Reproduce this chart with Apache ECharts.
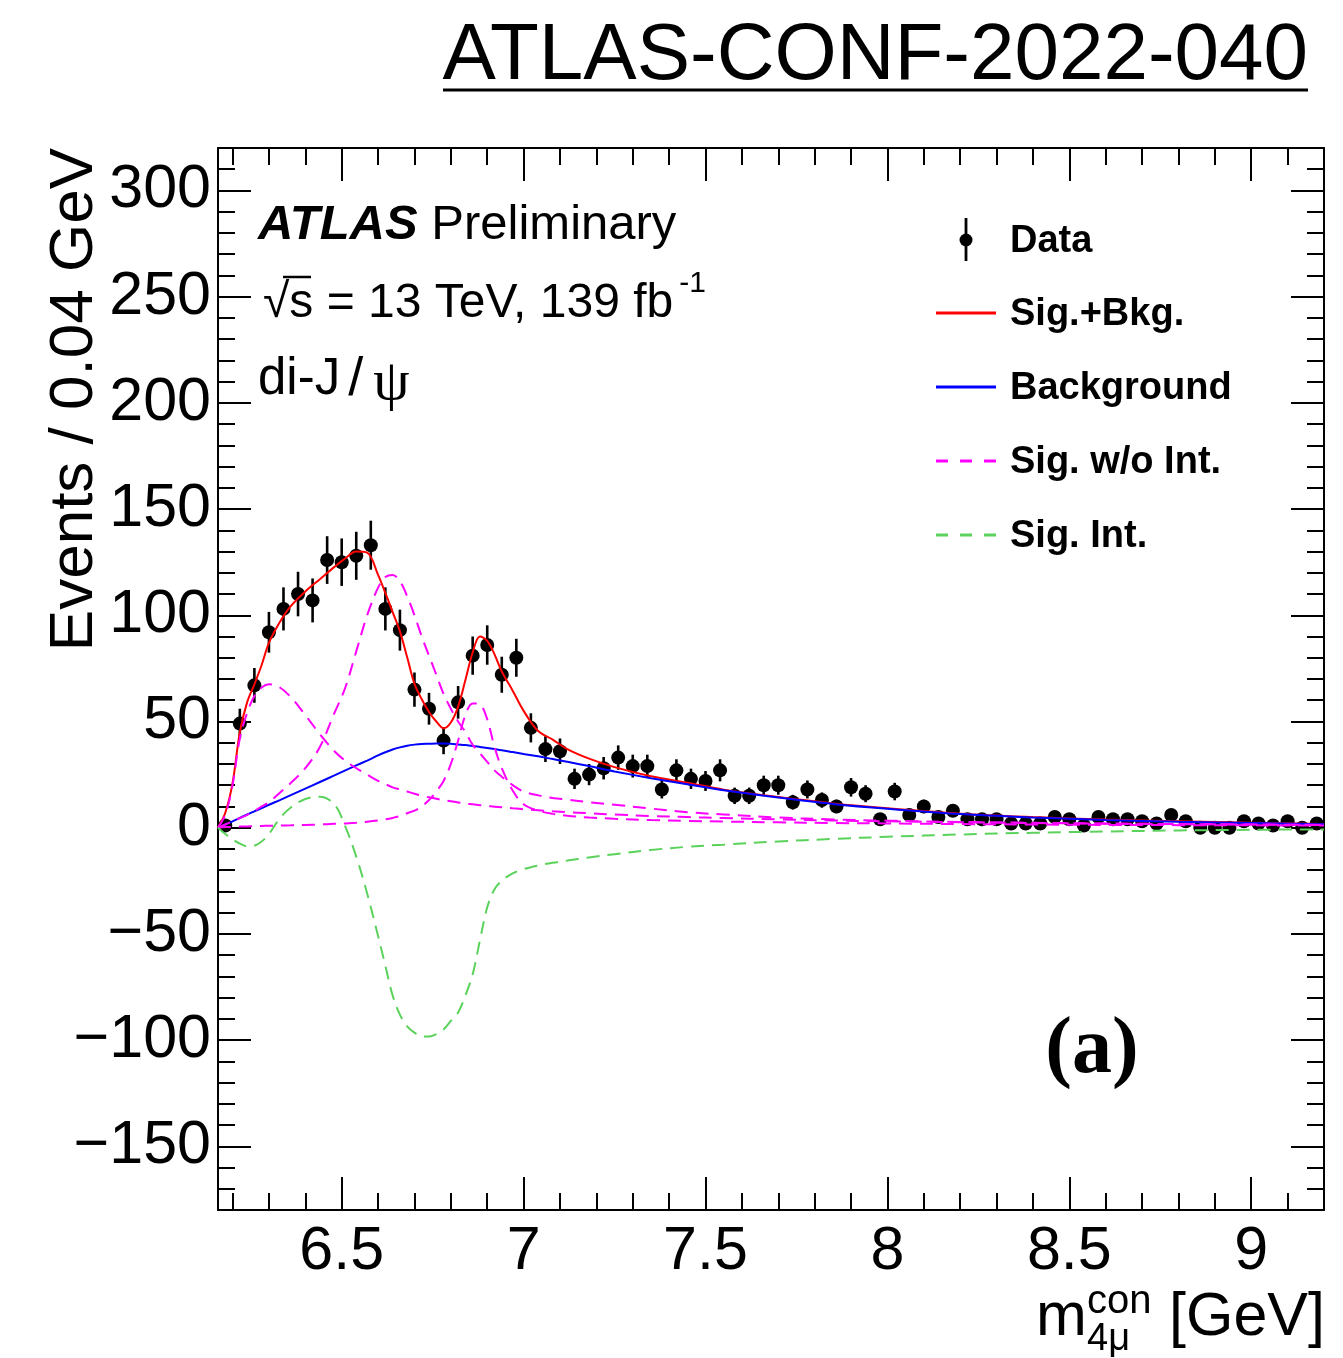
<!DOCTYPE html>
<html>
<head>
<meta charset="utf-8">
<script src="https://cdn.jsdelivr.net/npm/echarts@6/dist/echarts.min.js"></script>
<style>
html, body { margin: 0; padding: 0; background: #fff; }
#chart { width: 1343px; height: 1358px; }
</style>
</head>
<body>
<div id="chart"></div>
<script>
// Events per 0.04 GeV bin, bin centres in GeV
const binCenters = [
  6.18, 6.22, 6.26, 6.30, 6.34, 6.38, 6.42, 6.46, 6.50, 6.54,
  6.58, 6.62, 6.66, 6.70, 6.74, 6.78, 6.82, 6.86, 6.90, 6.94,
  6.98, 7.02, 7.06, 7.10, 7.14, 7.18, 7.22, 7.26, 7.30, 7.34,
  7.38, 7.42, 7.46, 7.50, 7.54, 7.58, 7.62, 7.66, 7.70, 7.74,
  7.78, 7.82, 7.86, 7.90, 7.94, 7.98, 8.02, 8.06, 8.10, 8.14,
  8.18, 8.22, 8.26, 8.30, 8.34, 8.38, 8.42, 8.46, 8.50, 8.54,
  8.58, 8.62, 8.66, 8.70, 8.74, 8.78, 8.82, 8.86, 8.90, 8.94,
  8.98, 9.02, 9.06, 9.10, 9.14, 9.18
];
const counts = [
  1, 49, 67, 92, 103, 110, 107, 126, 125, 128,
  133, 103, 93, 65, 56, 41, 59, 81, 86, 72,
  80, 47, 37, 36, 23, 25, 28, 33, 29, 29,
  18, 27, 23, 22, 27, 15, 15, 20, 20, 12,
  18, 13, 10, 19, 16, 4, 17, 6, 10, 5,
  8, 4, 4, 4, 2, 2, 2, 5, 4, 1,
  5, 4, 4, 3, 2, 6, 3, 0, 0, 0,
  3, 2, 1, 3, 0, 2
];
// Poisson uncertainty of each bin
const countErrors = counts.map(n => Math.sqrt(n));

// Fit model, sampled in m(4mu)
const curveMass = [
  6.16, 6.18, 6.20, 6.22, 6.24, 6.26, 6.28, 6.30, 6.33, 6.36,
  6.40, 6.44, 6.48, 6.51, 6.54, 6.57, 6.60, 6.62, 6.64, 6.66,
  6.68, 6.70, 6.72, 6.74, 6.76, 6.78, 6.80, 6.82, 6.84, 6.86,
  6.88, 6.90, 6.92, 6.94, 6.97, 7.00, 7.04, 7.08, 7.12, 7.18,
  7.25, 7.35, 7.45, 7.55, 7.70, 7.85, 8.00, 8.20, 8.40, 8.60,
  8.80, 9.00, 9.20
];
const sigPlusBkg = [
  0, 7, 21, 45, 59, 67.5, 76.6, 87, 96.8, 104.3,
  111.2, 117, 122.8, 126.8, 130, 129.5, 119, 110.5, 101.5, 92.4,
  80.2, 67.7, 60.5, 54.5, 50, 46.8, 49.5, 57, 69.5, 82.5,
  90, 88, 81.6, 73.5, 64.5, 55, 45.5, 41.5, 37, 32.5,
  28.5, 24.2, 21.2, 17.9, 14.4, 11.4, 9.1, 6.6, 5, 3.8,
  3, 2.3, 1.7
];
const background = [
  0, 1.5, 3, 4.6, 6.2, 7.7, 9.2, 10.8, 13, 15.3,
  18.4, 21.5, 24.6, 27, 29.3, 31.6, 34, 35.5, 36.8, 37.8,
  38.6, 39.1, 39.4, 39.5, 39.6, 39.6, 39.5, 39.2, 38.9, 38.5,
  38, 37.5, 37, 36.5, 35.6, 34.7, 33.6, 32.3, 31, 29,
  26.5, 23.3, 20.4, 17.6, 14.2, 11.2, 8.9, 6.4, 4.8, 3.6,
  2.8, 2.2, 1.6
];
// Signal resonances without interference
const sigLowRes = [
  0, 6, 20, 42, 54, 62, 66, 67.5, 66, 61.5,
  53, 44, 36, 31.5, 28, 25, 22, 20.5, 19, 18,
  17, 16, 15, 14.3, 13.6, 13, 12.4, 11.9, 11.4, 11,
  10.6, 10.2, 9.9, 9.6, 9.1, 8.7, 8.2, 7.7, 7.3, 6.8,
  6.2, 5.5, 5, 4.5, 3.9, 3.4, 3, 2.6, 2.2, 1.9,
  1.7, 1.5, 1.3
];
const sigMidRes = [
  0, 1.5, 3, 4.5, 6, 7.8, 10, 12, 16.5, 21,
  28, 38, 54, 66, 83, 100, 113, 118, 119, 116,
  109, 100, 90, 81, 72, 63, 56, 50, 45, 39,
  35, 31, 27, 24, 20, 17, 15.2, 14, 13.2, 12,
  10.8, 9, 7.3, 6.2, 4.8, 3.9, 3.3, 2.7, 2.3, 2,
  1.7, 1.5, 1.3
];
const sigHighRes = [
  0, 0.3, 0.4, 0.5, 0.6, 0.7, 0.8, 0.9, 1, 1.1,
  1.3, 1.5, 1.8, 2, 2.3, 2.8, 3.4, 3.9, 4.6, 5.5,
  6.8, 8, 10, 13, 17, 22, 30, 41, 53, 58.5,
  58, 51, 38, 28, 17.5, 11, 8, 6.5, 5.6, 4.8,
  4.2, 3.6, 3.2, 2.9, 2.5, 2.2, 2, 1.7, 1.5, 1.3,
  1.2, 1.1, 1
];
// Interference term
const sigInterference = [
  0, -3, -5.5, -7.5, -8.8, -8.5, -6.5, -3, 4.4, 9.5,
  13.5, 14.6, 11, 0.5, -13.6, -31, -51, -65, -79, -88,
  -93.5, -96.5, -98.2, -98.3, -97.2, -95, -91, -87, -79, -69,
  -53, -37.5, -29, -25, -21.5, -19.5, -17.8, -16.5, -15.5, -14,
  -12.5, -10.5, -9, -8, -6.5, -5.3, -4.3, -3.2, -2.4, -1.8,
  -1.3, -1, -0.8
];

// Axis ticks
const xMajorTicks = [6.5, 7, 7.5, 8, 8.5, 9];
const yMajorTicks = [-150, -100, -50, 0, 50, 100, 150, 200, 250, 300];
const xMinorTicks = [];
for (let k = 62; k <= 91; k++) if (k % 5 !== 0) xMinorTicks.push(k / 10);
const yMinorTicks = [];
for (let k = -17; k <= 31; k++) if (k % 5 !== 0) yMinorTicks.push(k * 10);

const FONT = '"Liberation Sans", Arial, Helvetica, sans-serif';
const SERIF = '"Liberation Serif", "Times New Roman", serif';
const BLACK = '#000';
const RED = '#ff0000', BLUE = '#0000ff', MAGENTA = '#ff00ff', GREEN = '#5bd25b';
const CURVE_DASH = [13, 8];

const chart = echarts.init(document.getElementById('chart'), null, { renderer: 'canvas' });

function xAxisDef(position, major) {
  return {
    type: 'value', gridIndex: 0, min: 6.16, max: 9.2, position: position,
    silent: true,
    splitLine: { show: false }, minorTick: { show: false }, minorSplitLine: { show: false },
    axisLine: { show: major, onZero: false, lineStyle: { color: BLACK, width: 2 } },
    axisTick: {
      show: true, inside: true, length: major ? 33 : 17,
      customValues: major ? xMajorTicks : xMinorTicks,
      lineStyle: { color: BLACK, width: 2 }
    },
    axisLabel: {
      show: major && position === 'bottom',
      customValues: xMajorTicks,
      formatter: v => String(v),
      fontSize: 61, fontFamily: FONT, color: BLACK, margin: 12
    }
  };
}
function yAxisDef(position, major) {
  return {
    type: 'value', gridIndex: 0, min: -180, max: 320, position: position,
    silent: true,
    splitLine: { show: false }, minorTick: { show: false }, minorSplitLine: { show: false },
    axisLine: { show: major, onZero: false, lineStyle: { color: BLACK, width: 2 } },
    axisTick: {
      show: true, inside: true, length: major ? 33 : 17,
      customValues: major ? yMajorTicks : yMinorTicks,
      lineStyle: { color: BLACK, width: 2 }
    },
    axisLabel: {
      show: major && position === 'left',
      customValues: yMajorTicks,
      formatter: v => (v < 0 ? '\u2212' + Math.abs(v) : String(v)),
      fontSize: 61, fontFamily: FONT, color: BLACK, margin: 7
    }
  };
}

function curve(name, ys, color, dashed, z) {
  return {
    name: name, type: 'line', xAxisIndex: 0, yAxisIndex: 0,
    data: curveMass.map((m, i) => [m, ys[i]]),
    showSymbol: false, symbol: 'none', smooth: 0.35, clip: true, z: z,
    lineStyle: { color: color, width: 2, type: dashed ? CURVE_DASH : 'solid' },
    emphasis: { disabled: true }, silent: true
  };
}

// Legend rows
const legendX0 = 936, legendX1 = 996, legendTextX = 1010;
const legendRows = [
  { label: 'Data', y: 241 },
  { label: 'Sig.+Bkg.', y: 314, color: RED, dash: null },
  { label: 'Background', y: 388, color: BLUE, dash: null },
  { label: 'Sig. w/o Int.', y: 462, color: MAGENTA, dash: [12, 12] },
  { label: 'Sig. Int.', y: 536, color: GREEN, dash: [12, 12] }
];
const legendGraphics = [];
legendRows.forEach((r, i) => {
  if (i === 0) {
    legendGraphics.push({ type: 'line', shape: { x1: 966, y1: 218, x2: 966, y2: 261 },
      style: { stroke: BLACK, lineWidth: 2.8 } });
    legendGraphics.push({ type: 'circle', shape: { cx: 966, cy: r.y - 1, r: 6.5 }, style: { fill: BLACK } });
  } else {
    legendGraphics.push({ type: 'line', shape: { x1: legendX0, y1: r.y - 1, x2: legendX1, y2: r.y - 1 },
      style: { stroke: r.color, lineWidth: 3, lineDash: r.dash } });
  }
  legendGraphics.push({ type: 'text', x: legendTextX, y: r.y + 1,
    style: { text: r.label, fontSize: 38, fontWeight: 'bold', fontFamily: FONT, fill: BLACK,
      align: 'left', textAlign: 'left', verticalAlign: 'middle', textVerticalAlign: 'middle' } });
});

const option = {
  animation: false,
  backgroundColor: '#fff',
  grid: { left: 218, top: 148, width: 1106, height: 1062, containLabel: false, outerBoundsMode: 'none' },
  xAxis: [xAxisDef('bottom', true), xAxisDef('bottom', false), xAxisDef('top', true), xAxisDef('top', false)],
  yAxis: [yAxisDef('left', true), yAxisDef('left', false), yAxisDef('right', true), yAxisDef('right', false)],
  series: [
    {
      name: 'Data', type: 'custom', xAxisIndex: 0, yAxisIndex: 0, z: 2, clip: true, silent: true,
      data: binCenters.map((m, i) => [m, counts[i], countErrors[i]]),
      renderItem: function (params, api) {
        const m = api.value(0), n = api.value(1), e = api.value(2);
        const c = api.coord([m, n]);
        const hi = api.coord([m, n + e]);
        const lo = api.coord([m, n - e]);
        return {
          type: 'group',
          children: [
            { type: 'line', shape: { x1: c[0], y1: hi[1], x2: c[0], y2: lo[1] },
              style: { stroke: BLACK, lineWidth: 2.6 } },
            { type: 'circle', shape: { cx: c[0], cy: c[1], r: 7 }, style: { fill: BLACK } }
          ]
        };
      }
    },
    curve('Sig.+Bkg.', sigPlusBkg, RED, false, 3),
    curve('Background', background, BLUE, false, 4),
    curve('Sig. w/o Int. (1)', sigLowRes, MAGENTA, true, 5),
    curve('Sig. w/o Int. (2)', sigMidRes, MAGENTA, true, 5),
    curve('Sig. w/o Int. (3)', sigHighRes, MAGENTA, true, 5),
    curve('Sig. Int.', sigInterference, GREEN, true, 6)
  ],
  graphic: [
    // note reference header
    { type: 'text', x: 1308, y: 57,
      style: { text: 'ATLAS-CONF-2022-040', fontSize: 80, fontFamily: FONT, fill: BLACK,
        align: 'right', textAlign: 'right', verticalAlign: 'middle', textVerticalAlign: 'middle' } },
    { type: 'line', shape: { x1: 443, y1: 90, x2: 1308, y2: 90 }, style: { stroke: BLACK, lineWidth: 3 } },
    // y axis title
    { type: 'text', x: 75, y: 148, rotation: Math.PI / 2,
      style: { text: 'Events / 0.04 GeV', fontSize: 62, fontFamily: FONT, fill: BLACK,
        align: 'right', textAlign: 'right', verticalAlign: 'middle', textVerticalAlign: 'middle' } },
    // x axis title m^{con}_{4mu} [GeV]
    { type: 'text', x: 1036, y: 1318,
      style: { text: 'm', fontSize: 61, fontFamily: FONT, fill: BLACK,
        align: 'left', textAlign: 'left', verticalAlign: 'middle', textVerticalAlign: 'middle' } },
    { type: 'text', x: 1087, y: 1302,
      style: { text: 'con', fontSize: 40, fontFamily: FONT, fill: BLACK,
        align: 'left', textAlign: 'left', verticalAlign: 'middle', textVerticalAlign: 'middle' } },
    { type: 'text', x: 1087, y: 1340,
      style: { text: '4\u03bc', fontSize: 38, fontFamily: FONT, fill: BLACK,
        align: 'left', textAlign: 'left', verticalAlign: 'middle', textVerticalAlign: 'middle' } },
    { type: 'text', x: 1325, y: 1318,
      style: { text: '[GeV]', fontSize: 61, fontFamily: FONT, fill: BLACK,
        align: 'right', textAlign: 'right', verticalAlign: 'middle', textVerticalAlign: 'middle' } },
    // experiment label
    { type: 'text', x: 258, y: 225,
      style: { text: '{b|ATLAS} {r|Preliminary}', fontSize: 49, fontFamily: FONT, fill: BLACK,
        align: 'left', textAlign: 'left', verticalAlign: 'middle', textVerticalAlign: 'middle',
        rich: {
          b: { fontSize: 49, fontFamily: FONT, fontWeight: 'bold', fontStyle: 'italic', fill: BLACK },
          r: { fontSize: 49, fontFamily: FONT, fill: BLACK }
        } } },
    { type: 'text', x: 263, y: 304,
      style: { text: '{n|\u221as = 13 TeV, 139 fb}{s|-1}', fontFamily: FONT, fill: BLACK,
        align: 'left', textAlign: 'left', verticalAlign: 'middle', textVerticalAlign: 'middle',
        rich: {
          n: { fontSize: 48, fontFamily: FONT, fill: BLACK, lineHeight: 70 },
          s: { fontSize: 30, fontFamily: FONT, fill: BLACK, lineHeight: 16, verticalAlign: 'top', padding: [0, 0, 0, 6] }
        } } },
    { type: 'line', shape: { x1: 283, y1: 277, x2: 311, y2: 277 }, style: { stroke: BLACK, lineWidth: 2.5 } },
    { type: 'text', x: 258, y: 380,
      style: { text: '{t|di-J}{s|/}{p|\u03c8}', fontFamily: FONT, fill: BLACK,
        align: 'left', textAlign: 'left', verticalAlign: 'middle', textVerticalAlign: 'middle',
        rich: {
          t: { fontSize: 51, fontFamily: FONT, fill: BLACK, lineHeight: 60 },
          s: { fontSize: 54, fontFamily: FONT, fill: BLACK, lineHeight: 60, padding: [0, 10, 0, 8] },
          p: { fontSize: 58, fontFamily: SERIF, fill: BLACK, lineHeight: 60, padding: [8, 0, 0, 0] }
        } } },
    // panel tag
    { type: 'text', x: 1092, y: 1051,
      style: { text: '(a)', fontSize: 80, fontWeight: 'bold', fontFamily: SERIF,
        fill: BLACK, align: 'center', textAlign: 'center', verticalAlign: 'middle', textVerticalAlign: 'middle' } }
  ].concat(legendGraphics)
};

chart.setOption(option);
</script>
</body>
</html>
